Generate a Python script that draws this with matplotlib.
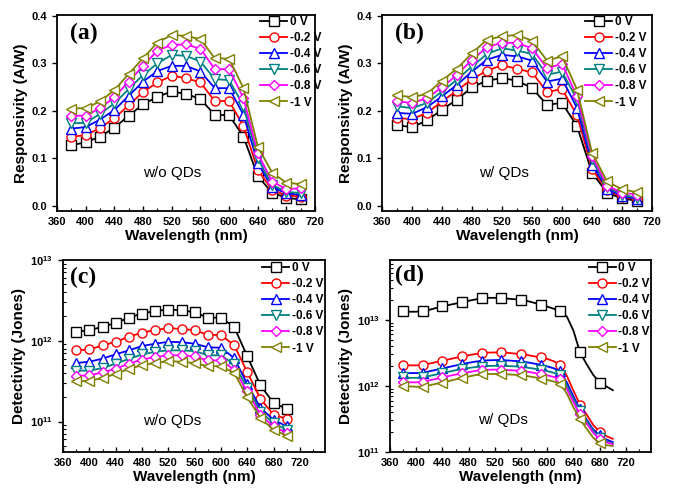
import matplotlib
matplotlib.use('Agg')
import matplotlib.pyplot as plt
from matplotlib.ticker import MultipleLocator, FixedLocator, LogLocator, FuncFormatter, NullFormatter
import numpy as np

# Fonts: Arial-like bold for everything, Times-like for the panel letters.
plt.rcParams['font.family'] = 'Liberation Sans'
plt.rcParams['font.weight'] = 'bold'
plt.rcParams['mathtext.fontset'] = 'custom'
plt.rcParams['mathtext.bf'] = 'Liberation Sans:bold'
plt.rcParams['mathtext.rm'] = 'Liberation Sans:bold'

# --- data ---
wl = [380, 400, 420, 440, 460, 480, 500, 520, 540, 560, 580, 600, 620, 640, 660, 680, 700]
wl_d = list(range(380, 701, 10))
wl_ticks = [360, 400, 440, 480, 520, 560, 600, 640, 680, 720]

bias_labels = ["0 V", "-0.2 V", "-0.4 V", "-0.6 V", "-0.8 V", "-1 V"]
colors = ["#000000", "#FF0000", "#0000FF", "#008080", "#FF00FF", "#808000"]
markers = ["s", "o", "^", "v", "D", "<"]

# (a) responsivity, w/o QDs (A/W)
resp_a_0v = [0.128, 0.134, 0.146, 0.165, 0.190, 0.214, 0.230, 0.241, 0.236, 0.225, 0.192, 0.191, 0.146, 0.063, 0.028, 0.017, 0.014]
resp_a_02v = [0.146, 0.149, 0.164, 0.185, 0.212, 0.240, 0.260, 0.274, 0.269, 0.260, 0.221, 0.221, 0.168, 0.076, 0.034, 0.022, 0.020]
resp_a_04v = [0.163, 0.166, 0.182, 0.202, 0.232, 0.262, 0.284, 0.295, 0.295, 0.283, 0.248, 0.248, 0.192, 0.090, 0.039, 0.027, 0.023]
resp_a_06v = [0.174, 0.175, 0.194, 0.216, 0.246, 0.276, 0.300, 0.318, 0.316, 0.304, 0.267, 0.265, 0.211, 0.100, 0.044, 0.030, 0.027]
resp_a_08v = [0.190, 0.190, 0.206, 0.229, 0.262, 0.295, 0.327, 0.339, 0.340, 0.331, 0.288, 0.288, 0.227, 0.111, 0.051, 0.036, 0.037]
resp_a_1v = [0.205, 0.206, 0.220, 0.244, 0.278, 0.311, 0.344, 0.360, 0.358, 0.351, 0.311, 0.310, 0.248, 0.125, 0.070, 0.049, 0.046]

# (b) responsivity, w/ QDs (A/W)
resp_b_0v = [0.170, 0.166, 0.180, 0.203, 0.224, 0.250, 0.264, 0.269, 0.264, 0.248, 0.213, 0.217, 0.168, 0.070, 0.028, 0.016, 0.011]
resp_b_02v = [0.185, 0.183, 0.196, 0.220, 0.243, 0.267, 0.285, 0.296, 0.289, 0.281, 0.240, 0.246, 0.191, 0.078, 0.033, 0.019, 0.014]
resp_b_04v = [0.196, 0.194, 0.208, 0.231, 0.255, 0.283, 0.308, 0.318, 0.315, 0.306, 0.262, 0.268, 0.206, 0.087, 0.036, 0.021, 0.015]
resp_b_06v = [0.210, 0.206, 0.217, 0.241, 0.266, 0.294, 0.320, 0.332, 0.327, 0.320, 0.276, 0.283, 0.224, 0.098, 0.040, 0.024, 0.017]
resp_b_08v = [0.220, 0.217, 0.227, 0.250, 0.276, 0.308, 0.334, 0.344, 0.343, 0.332, 0.290, 0.299, 0.231, 0.105, 0.043, 0.028, 0.024]
resp_b_1v = [0.233, 0.229, 0.236, 0.264, 0.289, 0.322, 0.350, 0.357, 0.360, 0.348, 0.306, 0.315, 0.245, 0.112, 0.052, 0.035, 0.029]

# (c) detectivity, w/o QDs (Jones)
det_c_0v = [1.29e12, 1.35e12, 1.49e12, 1.66e12, 1.93e12, 2.17e12, 2.34e12, 2.43e12, 2.39e12, 2.25e12, 1.93e12, 1.93e12, 1.48e12, 6.4e11, 2.8e11, 1.69e11, 1.44e11]
det_c_02v = [7.6e11, 7.8e11, 8.75e11, 9.7e11, 1.12e12, 1.26e12, 1.36e12, 1.43e12, 1.40e12, 1.35e12, 1.18e12, 1.18e12, 8.8e11, 4.07e11, 1.91e11, 1.21e11, 1.08e11]
det_c_04v = [5.3e11, 5.5e11, 6.0e11, 6.8e11, 7.6e11, 8.6e11, 9.2e11, 9.7e11, 9.6e11, 9.2e11, 8.3e11, 8.2e11, 6.1e11, 2.9e11, 1.47e11, 1.05e11, 8.7e10]
det_c_06v = [4.27e11, 4.27e11, 4.6e11, 5.2e11, 5.97e11, 6.76e11, 7.3e11, 7.6e11, 7.6e11, 7.45e11, 6.6e11, 6.6e11, 5.1e11, 2.6e11, 1.33e11, 9.5e10, 7.9e10]
det_c_08v = [3.7e11, 3.72e11, 4.07e11, 4.5e11, 5.2e11, 5.86e11, 6.3e11, 6.6e11, 6.6e11, 6.4e11, 5.7e11, 5.7e11, 4.4e11, 2.36e11, 1.21e11, 8.7e10, 7.2e10]
det_c_1v = [3.15e11, 3.2e11, 3.46e11, 3.88e11, 4.48e11, 4.98e11, 5.3e11, 5.6e11, 5.5e11, 5.3e11, 4.84e11, 4.84e11, 4.0e11, 2.0e11, 1.1e11, 7.9e10, 6.7e10]

# (d) detectivity, w/ QDs (Jones), read every 10 nm
det_d_0v = [1.34e13, 1.32e13, 1.32e13, 1.34e13, 1.41e13, 1.50e13, 1.59e13, 1.67e13, 1.75e13, 1.83e13, 1.93e13,
            2.02e13, 2.10e13, 2.14e13, 2.14e13, 2.10e13, 2.08e13, 2.04e13, 2.00e13, 1.91e13, 1.80e13, 1.69e13,
            1.58e13, 1.46e13, 1.34e13, 1.11e13, 6.8e12, 3.2e12, 2.13e12, 1.47e12, 1.12e12, 9.8e11, 8.6e11]
det_d_02v = [2.06e12, 2.04e12, 2.04e12, 2.06e12, 2.17e12, 2.28e12, 2.39e12, 2.52e12, 2.65e12, 2.78e12, 2.90e12,
             3.02e12, 3.12e12, 3.18e12, 3.20e12, 3.20e12, 3.15e12, 3.08e12, 3.02e12, 2.92e12, 2.80e12, 2.70e12,
             2.55e12, 2.35e12, 2.08e12, 1.41e12, 8.4e11, 5.2e11, 3.7e11, 2.57e11, 2.0e11, 1.74e11, 1.58e11]
det_d_04v = [1.58e12, 1.56e12, 1.56e12, 1.58e12, 1.66e12, 1.74e12, 1.83e12, 1.93e12, 2.03e12, 2.13e12, 2.23e12,
             2.32e12, 2.39e12, 2.43e12, 2.45e12, 2.45e12, 2.42e12, 2.38e12, 2.34e12, 2.26e12, 2.17e12, 2.08e12,
             1.97e12, 1.84e12, 1.65e12, 1.12e12, 6.9e11, 4.4e11, 3.1e11, 2.2e11, 1.78e11, 1.55e11, 1.41e11]
det_d_06v = [1.34e12, 1.32e12, 1.32e12, 1.34e12, 1.41e12, 1.48e12, 1.56e12, 1.64e12, 1.72e12, 1.79e12, 1.86e12,
             1.92e12, 1.96e12, 2.00e12, 2.01e12, 2.01e12, 1.99e12, 1.97e12, 1.94e12, 1.88e12, 1.82e12, 1.75e12,
             1.67e12, 1.57e12, 1.45e12, 1.0e12, 6.3e11, 4.18e11, 2.95e11, 2.1e11, 1.65e11, 1.45e11, 1.35e11]
det_d_08v = [1.15e12, 1.13e12, 1.13e12, 1.15e12, 1.21e12, 1.27e12, 1.34e12, 1.41e12, 1.48e12, 1.54e12, 1.61e12,
             1.68e12, 1.73e12, 1.75e12, 1.76e12, 1.75e12, 1.73e12, 1.71e12, 1.69e12, 1.63e12, 1.57e12, 1.50e12,
             1.44e12, 1.36e12, 1.26e12, 8.9e11, 5.6e11, 3.72e11, 2.7e11, 1.95e11, 1.56e11, 1.40e11, 1.31e11]
det_d_1v = [1.0e12, 9.8e11, 9.7e11, 9.7e11, 1.02e12, 1.07e12, 1.12e12, 1.18e12, 1.25e12, 1.31e12, 1.38e12,
            1.45e12, 1.50e12, 1.51e12, 1.51e12, 1.50e12, 1.49e12, 1.47e12, 1.45e12, 1.40e12, 1.35e12, 1.29e12,
            1.23e12, 1.16e12, 1.08e12, 7.6e11, 4.7e11, 3.13e11, 2.25e11, 1.65e11, 1.35e11, 1.27e11, 1.23e11]

resp_a = [resp_a_0v, resp_a_02v, resp_a_04v, resp_a_06v, resp_a_08v, resp_a_1v]
resp_b = [resp_b_0v, resp_b_02v, resp_b_04v, resp_b_06v, resp_b_08v, resp_b_1v]
det_c = [det_c_0v, det_c_02v, det_c_04v, det_c_06v, det_c_08v, det_c_1v]
det_d = [det_d_0v, det_d_02v, det_d_04v, det_d_06v, det_d_08v, det_d_1v]


def style_axis(ax, xmax):
    ax.set_xlim(360, xmax)
    # labels only up to 720 even when the axis runs further
    ax.xaxis.set_major_locator(FixedLocator(wl_ticks))
    ax.xaxis.set_minor_locator(MultipleLocator(20))
    ax.tick_params(axis='x', which='major', direction='in', length=3.5, width=1.0,
                   labelsize=8, pad=4)
    ax.tick_params(axis='x', which='minor', direction='in', length=2, width=0.8)
    ax.tick_params(axis='y', which='major', direction='out', length=3.5, width=1.0, labelsize=8)
    ax.tick_params(axis='y', which='minor', direction='in', length=2, width=0.8)
    for sp in ax.spines.values():
        sp.set_linewidth(1.3)
    ax.set_xlabel("Wavelength (nm)", fontsize=11, fontweight='bold', labelpad=2)


def draw_curves(ax, x, series, markevery=None):
    for y, c, m, lab in zip(series, colors, markers, bias_labels):
        ms = 5.5 if m == 'D' else 6.5
        ax.plot(x, y, color=c, marker=m, markersize=ms, markerfacecolor='white',
                markeredgecolor=c, markeredgewidth=1.0, linewidth=1.3,
                markevery=markevery, label=lab)


def add_legend(ax, x0, y0):
    ax.legend(loc='upper left', bbox_to_anchor=(x0, y0), frameon=False,
              prop={'weight': 'bold', 'size': 8.5}, handlelength=2.3,
              handletextpad=0.2, labelspacing=0.35, borderpad=0, borderaxespad=0)


def decade_fmt(v, pos):
    return r'$\mathbf{10^{%d}}$' % int(round(np.log10(v)))


def log_y(ax, lo, hi):
    ax.set_yscale('log')
    ax.set_ylim(lo, hi)
    ax.yaxis.set_major_locator(LogLocator(base=10))
    ax.yaxis.set_minor_locator(LogLocator(base=10, subs=np.arange(2, 10)))
    ax.yaxis.set_major_formatter(FuncFormatter(decade_fmt))
    ax.yaxis.set_minor_formatter(NullFormatter())


fig = plt.figure(figsize=(6.74, 4.93), dpi=100)

# (a) responsivity w/o QDs
ax_a = fig.add_axes([0.0846, 0.572, 0.383, 0.3976])
draw_curves(ax_a, wl, resp_a)
style_axis(ax_a, 720)
ax_a.set_ylim(-0.0105, 0.402)
ax_a.yaxis.set_major_locator(MultipleLocator(0.1))
ax_a.yaxis.set_major_formatter(FuncFormatter(lambda v, p: f"{v:.1f}"))
ax_a.set_ylabel("Responsivity (A/W)", fontsize=11, fontweight='bold', labelpad=3)
ax_a.text(0.105, 0.905, "(a)", transform=ax_a.transAxes, ha='center', va='center',
          fontsize=17, fontweight='bold', family='Liberation Serif')
ax_a.text(0.446, 0.194, "w/o QDs", transform=ax_a.transAxes, ha='center', va='center',
          fontsize=11, fontweight='normal')
add_legend(ax_a, 0.787, 0.995)

# (b) responsivity w/ QDs
ax_b = fig.add_axes([0.5668, 0.572, 0.4006, 0.3976])
draw_curves(ax_b, wl, resp_b)
style_axis(ax_b, 720)
ax_b.set_ylim(-0.0105, 0.402)
ax_b.yaxis.set_major_locator(MultipleLocator(0.1))
ax_b.yaxis.set_major_formatter(FuncFormatter(lambda v, p: f"{v:.1f}"))
ax_b.set_ylabel("Responsivity (A/W)", fontsize=11, fontweight='bold', labelpad=3)
ax_b.text(0.1, 0.905, "(b)", transform=ax_b.transAxes, ha='center', va='center',
          fontsize=17, fontweight='bold', family='Liberation Serif')
ax_b.text(0.452, 0.194, "w/ QDs", transform=ax_b.transAxes, ha='center', va='center',
          fontsize=11, fontweight='normal')
add_legend(ax_b, 0.752, 0.995)

# (c) detectivity w/o QDs
ax_c = fig.add_axes([0.0935, 0.0832, 0.3887, 0.3895])
draw_curves(ax_c, wl, det_c)
style_axis(ax_c, 758)
log_y(ax_c, 4.2e10, 1e13)
ax_c.set_ylabel("Detectivity (Jones)", fontsize=11, fontweight='bold', labelpad=3)
ax_c.text(0.076, 0.911, "(c)", transform=ax_c.transAxes, ha='center', va='center',
          fontsize=17, fontweight='bold', family='Liberation Serif')
ax_c.text(0.416, 0.16, "w/o QDs", transform=ax_c.transAxes, ha='center', va='center',
          fontsize=11, fontweight='normal')
add_legend(ax_c, 0.76, 0.99)

# (d) detectivity w/ QDs, markers every 30 nm
ax_d = fig.add_axes([0.5786, 0.0832, 0.387, 0.3895])
draw_curves(ax_d, wl_d, det_d, markevery=3)
style_axis(ax_d, 758)
log_y(ax_d, 1e11, 8e13)
ax_d.set_ylabel("Detectivity (Jones)", fontsize=11, fontweight='bold', labelpad=3)
ax_d.text(0.075, 0.92, "(d)", transform=ax_d.transAxes, ha='center', va='center',
          fontsize=17, fontweight='bold', family='Liberation Serif')
ax_d.text(0.433, 0.167, "w/ QDs", transform=ax_d.transAxes, ha='center', va='center',
          fontsize=11, fontweight='normal')
add_legend(ax_d, 0.762, 0.99)

plt.savefig("out.png", dpi=100)
plt.close()
